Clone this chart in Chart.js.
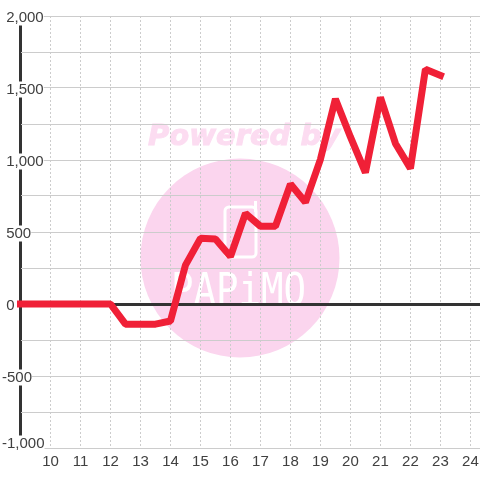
<!DOCTYPE html>
<html>
<head>
<meta charset="utf-8">
<style>
    html, body { margin: 0; padding: 0; background: #fff; }
    #wrap { width: 480px; height: 480px; }
</style>
<script src="https://cdn.jsdelivr.net/npm/chart.js@4"></script>
</head>
<body>
<div id="wrap"><canvas id="chart" width="480" height="480"></canvas></div>
<script>
const hours = [9, 9.5, 10, 10.5, 11, 11.5, 12, 12.5, 13, 13.5, 14, 14.5, 15, 15.5, 16, 16.5, 17, 17.5, 18, 18.5, 19, 19.5, 20, 20.5, 21, 21.5, 22, 22.5, 23];
const values = [0, 0, 0, 0, 0, 0, 0, -140, -140, -140, -118, 270, 456, 451, 330, 630, 540, 540, 833, 706, 1005, 1424, 1160, 912, 1435, 1115, 942, 1630, 1588];

const FONT = '"Liberation Sans", Arial, sans-serif';
const TEXT = '#404040';
const DARK = '#333333';
const GRID = '#cccccc';

// watermark sits under the grid
const watermark = {
    id: 'watermark',
    beforeDraw(chart) {
        const c = chart.ctx;
        c.save();
        c.fillStyle = '#ffffff';
        c.fillRect(0, 0, 480, 480);

        c.fillStyle = '#fbd5ee';
        c.beginPath();
        c.arc(240, 258, 99.5, 0, Math.PI * 2);
        c.fill();

        c.fillStyle = '#fcdcf1';
        c.strokeStyle = '#fcdcf1';
        c.lineWidth = 1;
        c.font = 'italic bold 29px "DejaVu Sans", sans-serif';
        c.textBaseline = 'alphabetic';
        c.fillText('Powered by', 148, 144.5);
        c.strokeText('Powered by', 148, 144.5);

        // phone outline
        c.strokeStyle = '#ffffff';
        c.lineWidth = 3;
        c.beginPath();
        c.roundRect(225, 207, 31, 50, 4);
        c.moveTo(255.5, 212);
        c.lineTo(255.5, 201);
        c.stroke();

        c.fillStyle = '#ffffff';
        c.font = '44px "DejaVu Sans Mono", monospace';
        c.translate(171, 305);
        c.scale(0.85, 1);
        c.fillText('PAPiMO', 0, 0);
        c.restore();

        // y labels sit a bit low, the bottom one above its grid line
        chart.scales.y.getLabelItems().forEach(item => {
            item.options.translation[1] += item.label.trim() === '-1,000' ? -4.5 : 1.5;
        });
    }
};

new Chart(document.getElementById('chart'), {
    type: 'line',
    plugins: [watermark],
    data: {
        labels: hours,
        datasets: [{
            data: hours.map((h, i) => ({ x: h, y: values[i] })),
            borderColor: '#f02037',
            borderWidth: 7,
            borderCapStyle: 'square',
            borderJoinStyle: 'bevel',
            pointRadius: 0,
            tension: 0,
            clip: false
        }]
    },
    options: {
        responsive: false,
        animation: false,
        layout: { padding: { top: 16 } },
        plugins: {
            legend: { display: false },
            tooltip: { enabled: false }
        },
        scales: {
            x: {
                type: 'linear',
                min: 9,
                max: 24.32,
                afterFit: s => {
                    s.height = 32;
                    s.paddingLeft = 0;
                    s.paddingRight = 0;
                },
                border: {
                    display: false,
                    dash: ctx => (ctx.tick && ctx.tick.value === 9 ? [] : [2, 2])
                },
                grid: {
                    color: ctx => (ctx.tick && ctx.tick.value === 9 ? DARK : GRID),
                    lineWidth: ctx => (ctx.tick && ctx.tick.value === 9 ? 3 : 1),
                    drawTicks: false
                },
                ticks: {
                    stepSize: 1,
                    includeBounds: false,
                    autoSkip: false,
                    maxRotation: 0,
                    padding: 5,
                    color: TEXT,
                    font: { family: FONT, size: 15 },
                    callback: v => (v === 9 ? '' : String(v))
                }
            },
            y: {
                min: -1000,
                max: 2000,
                afterFit: s => { s.width = 20.5; },
                border: { display: false },
                grid: {
                    color: ctx => (ctx.tick && ctx.tick.value === 0 ? DARK : GRID),
                    lineWidth: ctx => (ctx.tick && ctx.tick.value === 0 ? 3 : 1),
                    drawTicks: false
                },
                ticks: {
                    stepSize: 250,
                    autoSkip: false,
                    mirror: true,
                    crossAlign: 'near',
                    padding: -18.5,
                    color: TEXT,
                    font: { family: FONT, size: 15, lineHeight: '16px' },
                    showLabelBackdrop: true,
                    backdropColor: '#ffffff',
                    backdropPadding: ctx => (ctx.tick && ctx.tick.value === -1000
                        ? { top: -0.5, bottom: 0, left: 0, right: 2 }
                        : { top: 0, bottom: -1.5, left: 0, right: 2 }),
                    callback: v => {
                        if (v % 500 !== 0) return '';
                        const txt = v.toLocaleString('en-US');
                        return v < 0 ? txt : ' ' + txt;
                    }
                }
            }
        }
    }
});
</script>
</body>
</html>
